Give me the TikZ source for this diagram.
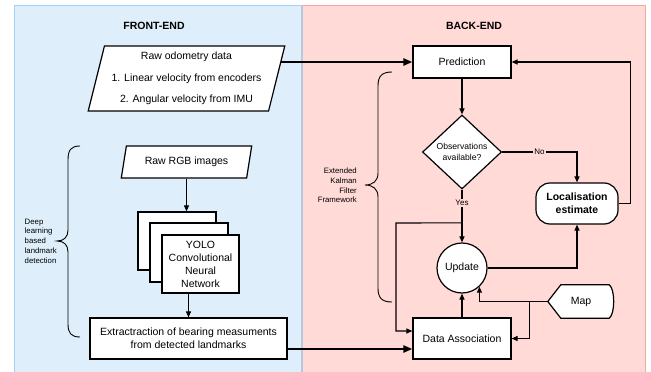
\documentclass[tikz,border=0pt]{standalone}
\usepackage{fontspec}
\setmainfont{Liberation Sans}
\usetikzlibrary{arrows.meta,shapes.geometric,calc}
\pgfdeclarelayer{back}
\pgfdeclarelayer{wires}
\pgfsetlayers{back,wires,main}

\definecolor{feFill}{RGB}{222,238,250}
\definecolor{feLine}{RGB}{165,210,243}
\definecolor{beFill}{RGB}{255,218,215}
\definecolor{beLine}{RGB}{250,165,160}
\definecolor{midLine}{RGB}{185,198,222}

\tikzset{
  box/.style={draw, fill=white, line width=1.2pt, align=center, inner sep=2pt,
    font=\fontsize{10.5}{13}\selectfont},
  para/.style={box, trapezium, trapezium left angle=75, trapezium right angle=105,
    trapezium stretches=true},
  wire/.style={line width=1.1pt},
  arr/.style={wire, -{Triangle[length=6pt,width=5pt]}},
  bigarr/.style={line width=2.3pt, -{Triangle[length=9pt,width=7pt]}},
  note/.style={font=\fontsize{7.8}{9.75}\selectfont, inner sep=0pt},
  tag/.style={font=\fontsize{8}{9}\selectfont, inner sep=1.5pt, fill=beFill},
  heading/.style={font=\fontsize{10.5}{12}\selectfont\bfseries},
}

\begin{document}
\begin{tikzpicture}[x=1pt,y=-1pt]
\useasboundingbox (0,0) rectangle (651,372);

% the two panels
\begin{pgfonlayer}{back}
  \fill[feFill] (14.5,5.5) rectangle (302,380);
  \fill[beFill] (302,5.5) rectangle (645.5,380);
  \draw[feLine, line width=1.5pt] (14.5,380) -- (14.5,5.5) -- (302,5.5);
  \draw[beLine, line width=1.5pt] (302,5.5) -- (645.5,5.5) -- (645.5,380);
  \draw[midLine, line width=1.5pt] (302,5.5) -- (302,380);
\end{pgfonlayer}

\node[heading] (fe) at (154,26) {FRONT-END};
\node[heading] (be) at (474,26) {BACK-END};

% front-end nodes
\node[para, minimum width=197pt, minimum height=65pt] (odo) at (186.5,78.5)
  {Raw odometry data\\[8.5pt] 1. Linear velocity from encoders\\[8.5pt] 2. Angular velocity from IMU};
\node[para, minimum width=131pt, minimum height=32pt] (rgb) at (186.5,162) {Raw RGB images};
\node[box, minimum width=78pt, minimum height=58pt] (cnn3) at (177,241) {};
\node[box, minimum width=78pt, minimum height=59pt] (cnn2) at (189,252.5) {};
\node[box, minimum width=77pt, minimum height=58pt] (cnn) at (200.5,264)
  {YOLO\\Convolutional\\Neural\\Network};
\node[box, minimum width=197pt, minimum height=41pt] (ext) at (188.5,338.5)
  {Extractraction of bearing measuments\\from detected landmarks};

% back-end nodes
\node[box, minimum width=98pt, minimum height=32pt] (pred) at (462,62) {Prediction};
\node[box, diamond, minimum width=79pt, minimum height=74pt, inner sep=0pt,
  font=\fontsize{8.6}{10.3}\selectfont] (dia) at (462,152) {Observations\\available?};
\node[box, rounded corners=14pt, minimum width=82pt, minimum height=41pt,
  font=\fontsize{10.5}{12.7}\selectfont\bfseries] (loc) at (577,203.5) {Localisation\\estimate};
\node[box, circle, minimum size=50pt, inner sep=0pt] (upd) at (462,268) {Update};
\node[box, minimum width=98pt, minimum height=41pt] (da) at (462,338.5) {Data Association};
\node[font=\fontsize{10.5}{13}\selectfont, minimum width=66pt, minimum height=33pt,
  inner sep=0pt] (map) at (581,301.5) {Map};

% braces and their labels
\draw[line width=0.9pt] (80,146) .. controls (71,146) and (68,150) .. (68,160)
  -- (68,230) .. controls (68,237) and (64,241) .. (57,241)
  .. controls (64,241) and (68,245) .. (68,252)
  -- (68,324) .. controls (68,333) and (71,337) .. (80,337);
\node[note, anchor=west, align=left] (dl) at (24.5,241)
  {Deep\\learning\\based\\landmark\\detection};

\draw[line width=0.9pt] (392,72) .. controls (382,72) and (378,76) .. (378,86)
  -- (378,173) .. controls (378,181) and (373,185) .. (365,185)
  .. controls (373,185) and (378,189) .. (378,197)
  -- (378,288) .. controls (378,298) and (382,302) .. (392,302);
\node[note, anchor=east, align=right] (ekf) at (357,185.5)
  {Extended\\Kalman\\Filter\\Framework};

\coordinate (split) at ($(dia.south)!0.63!(upd.north)$);
\coordinate (bend) at (396,223);
\coordinate (j) at ($(map.west)+(-18,0)$);

\begin{pgfonlayer}{wires}
  % map outline: pointed on the left, bulged on the right
  \draw[line width=1.2pt, fill=white] (map.west) -- ($(map.north west)+(13,0)$)
    -- ($(map.north east)+(-5,0)$)
    .. controls ($(map.north east)+(1,4)$) and ($(map.south east)+(1,-4)$) .. ($(map.south east)+(-5,0)$)
    -- ($(map.south west)+(13,0)$) -- cycle;

  \draw[bigarr] (odo.center |- pred.west) -- (pred.west);
  \draw[bigarr] ($(ext.east)+(0,10.5)$) -- ($(da.west)+(0,10.5)$);

  \draw[arr] (rgb.south) -- (rgb.south |- cnn3.north);
  \draw[arr] (ext.north |- cnn.south) -- (ext.north);

  \draw[arr] (pred.south) -- (dia.north);
  \draw[arr] (dia.east) -- node[tag] {No} (dia.east -| loc.north) -- (loc.north);
  \draw[arr] (dia.south) -- node[tag, pos=0.25] {Yes} (upd.north);
  \draw[arr] (split) -- (bend) |- ($(da.west)+(0,-7.5)$);
  \draw[arr] (upd.east) -| (loc.south);
  \draw[arr] (loc.east) -- ++(12,0) |- (pred.east);
  \draw[arr] (da.north) -- (upd.south);
  \draw[wire] (map.west) -- (j);
  \draw[arr] (j) -- (j -| upd.-47) -- (upd.-47);
  \draw[arr] (j) |- (da.east);
\end{pgfonlayer}
\end{tikzpicture}
\end{document}
